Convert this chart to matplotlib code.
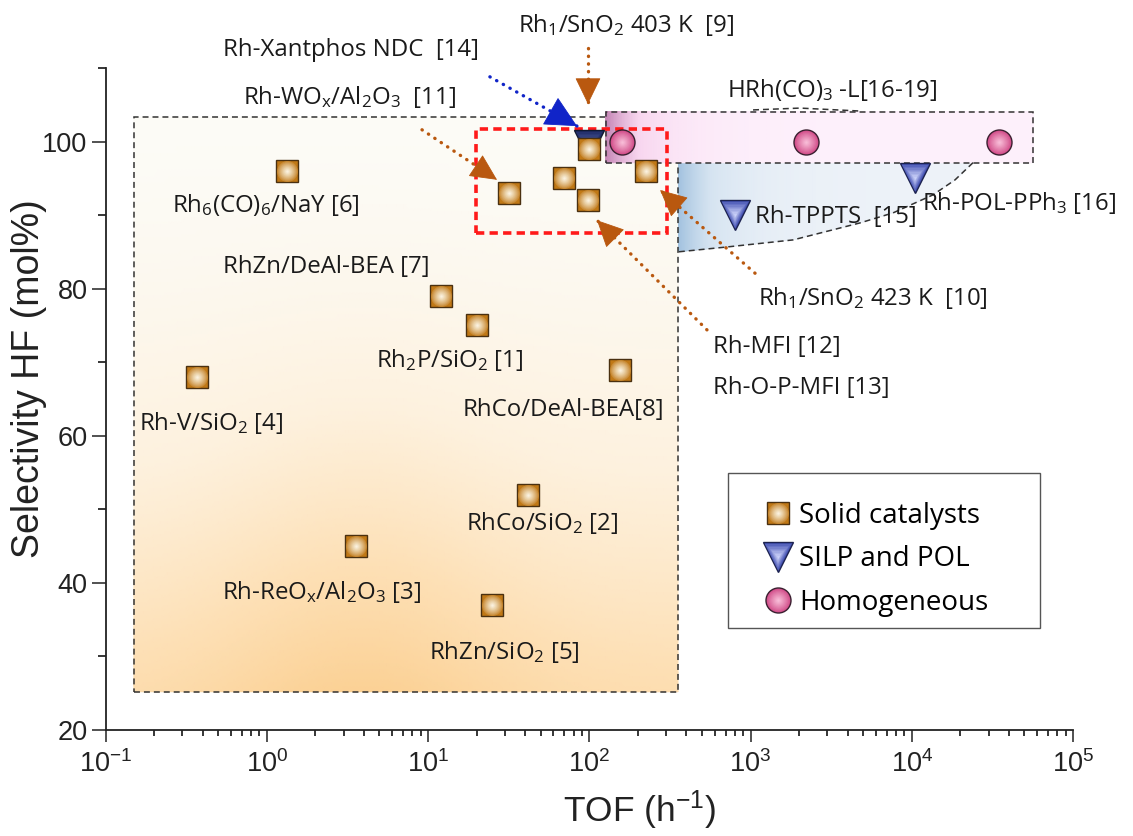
import numpy as np
import matplotlib
matplotlib.use('Agg')
import matplotlib.pyplot as plt
from matplotlib.colors import LinearSegmentedColormap, to_rgb
from matplotlib.patches import Rectangle, Polygon
from matplotlib.legend_handler import HandlerTuple
from matplotlib.ticker import LogLocator, MultipleLocator, NullFormatter, FixedLocator

plt.rcParams['mathtext.default'] = 'regular'

# ---------------- data ----------------
solid_labels = ['Rh$_2$P/SiO$_2$ [1]', 'RhCo/SiO$_2$ [2]', 'Rh-ReO$_x$/Al$_2$O$_3$ [3]',
                'Rh-V/SiO$_2$ [4]', 'RhZn/SiO$_2$ [5]', 'Rh$_6$(CO)$_6$/NaY [6]',
                'RhZn/DeAl-BEA [7]', 'RhCo/DeAl-BEA[8]', 'Rh$_1$/SnO$_2$ 403 K  [9]',
                'Rh$_1$/SnO$_2$ 423 K  [10]', 'Rh-WO$_x$/Al$_2$O$_3$  [11]', 'Rh-MFI [12]',
                'Rh-O-P-MFI [13]']
solid_tof = [20, 42, 3.6, 0.37, 25, 1.33, 12, 155, 100, 225, 32, 98, 70]
solid_sel = [75, 52, 45, 68, 37, 96, 79, 69, 99, 96, 93, 92, 95]

silp_labels = ['Rh-Xantphos NDC  [14]', 'Rh-TPPTS  [15]', 'Rh-POL-PPh$_3$ [16]']
silp_tof = [100, 800, 10500]
silp_sel = [99.5, 90, 95]

homog_label = 'HRh(CO)$_3$ -L[16-19]'
homog_tof = [160, 2200, 35000]
homog_sel = [100, 100, 100]

legend_labels = ['Solid catalysts', 'SILP and POL', 'Homogeneous']
xtick_vals = [1e-1, 1e0, 1e1, 1e2, 1e3, 1e4, 1e5]
ytick_vals = [20, 40, 60, 80, 100]

# label positions (left edge, vertical centre) in data coords
solid_text_pos = [(4.77, 70.3), (17.2, 48.1), (0.528, 38.8), (0.1614, 61.7), (10.1, 30.6),
                  (0.258, 91.4), (0.536, 82.95), (16.3, 63.5), (36.1, 115.9), (1114, 78.7),
                  (0.713, 106.1), (585, 72.1), (585, 66.5)]
silp_text_pos = [(0.536, 112.5), (1067, 89.75), (11580, 91.6)]
homog_text_pos = (714, 107.0)

# arrows: (start, tip, colour)
BROWN = '#b9580f'
arrows = [((98.2, 112.7), (98.2, 105.1), BROWN),
          ((9.18, 101.6), (26.8, 94.8), BROWN),
          ((1067, 82.1), (275, 93.4), BROWN),
          ((537, 74.4), (111.7, 89.3), BROWN),
          ((24.2, 108.8), (84, 102.1), '#1024c8')]

# region outlines
solid_box = (0.150, 355, 25.2, 103.3)
homog_box = (126.5, 56500, 97.13, 104.07)
red_box = (19.9, 302, 87.6, 101.67)
silp_curve = [(23990, 97.13), (18530, 94.78), (13540, 92.75), (7650, 90.30), (4780, 88.94),
              (1838, 86.63), (715, 85.67), (355, 85.0)]
homog_connector = [(1037, 104.3), (2028, 104.55), (4775, 104.15)]

# ---------------- figure ----------------
W, H = 1133, 836
fig = plt.figure(figsize=(W / 100, H / 100), dpi=100)
ax = fig.add_axes([105.5 / W, 1 - 730 / H, (1073 - 105.5) / W, (730 - 68) / H])
ax.set_xscale('log')
ax.set_xlim(0.1, 1e5)
ax.set_ylim(20, 110)

LABEL_FONT = 'Open Sans'
AX_FONT = 'Liberation Sans'
LABEL_SIZE = 17.3


def grad_mesh(x0, x1, y0, y1, func, colors, zorder, clip=None):
    lx = np.linspace(np.log10(x0), np.log10(x1), 160)
    ys = np.linspace(y0, y1, 90)
    LX, Y = np.meshgrid(lx, ys)
    U = (LX - lx[0]) / (lx[-1] - lx[0])
    T = (y1 - Y) / (y1 - y0)
    V = func(U, T)
    cmap = LinearSegmentedColormap.from_list('g', colors)
    m = ax.pcolormesh(10 ** LX, Y, V, cmap=cmap, shading='gouraud', vmin=0, vmax=1,
                      zorder=zorder)
    if clip is not None:
        m.set_clip_path(clip)
    return m


DASH = (0, (3.9, 2.6))

# solid catalysts region
x0, x1, y0, y1 = solid_box
grad_mesh(x0, x1, y0, y1,
          lambda U, T: np.clip(T ** 1.6 * (0.72 + 0.28 * np.exp(-((U - 0.42) / 0.28) ** 2)), 0, 1),
          ['#fcfbf6', '#fdf1de', '#fde0b6', '#fbd195'], 1)
ax.add_patch(Rectangle((x0, y0), x1 - x0, y1 - y0, fill=False, ec='#333333', lw=1.1,
                       ls=DASH, zorder=1.7))

# SILP region (clipped gradient)
silp_poly = Polygon([(solid_box[1], homog_box[2])] + silp_curve + [(solid_box[1], silp_curve[-1][1])],
                    closed=True, transform=ax.transData, fc='none', ec='none')
ax.add_patch(silp_poly)
grad_mesh(solid_box[1], silp_curve[0][0], silp_curve[-1][1], homog_box[2],
          lambda U, T: np.exp(-U / 0.16), ['#edf2f8', '#d6e4f1', '#a2c2df'], 1.6, clip=silp_poly)
ax.plot([p[0] for p in silp_curve], [p[1] for p in silp_curve], color='#333333', lw=1.1,
        ls=DASH, zorder=2.5)

# homogeneous region
x0, x1, y0, y1 = homog_box
grad_mesh(x0, x1, y0, y1, lambda U, T: np.exp(-U / 0.11),
          ['#fdf0fb', '#f8d6ef', '#c586b6'], 2)
ax.add_patch(Rectangle((x0, y0), x1 - x0, y1 - y0, fill=False, ec='#333333', lw=1.1,
                       ls=DASH, zorder=2.5))
ax.plot([p[0] for p in homog_connector], [p[1] for p in homog_connector], color='#333333',
        lw=1.1, ls=DASH, zorder=2.5, clip_on=False)

# red box
x0, x1, y0, y1 = red_box
ax.add_patch(Rectangle((x0, y0), x1 - x0, y1 - y0, fill=False, ec='#ff1a1a', lw=2.6,
                       ls=(0, (2.3, 1.45)), zorder=3))


def mix(c1, c2, f):
    a, b = np.array(to_rgb(c1)), np.array(to_rgb(c2))
    return tuple(a * (1 - f) + b * f)


def grad_markers(xs, ys, marker, ms, c_out, c_in, ec, zorder, n=10, ew=1.0,
                 inner=None, inner_scale=0.97, power=0.9):
    inner = inner or marker
    handles = []
    h = ax.plot(xs, ys, ls='none', marker=marker, ms=ms, mfc=c_out, mec=ec, mew=ew,
                zorder=zorder)[0]
    handles.append(h)
    for i in range(1, n):
        f = i / n
        h = ax.plot(xs, ys, ls='none', marker=inner, ms=ms * (1 - f) * inner_scale,
                    mfc=mix(c_out, c_in, f ** power), mec='none', mew=0,
                    zorder=zorder + 0.01 * i)[0]
        handles.append(h)
    return tuple(handles)


# SILP markers (Xantphos darker, behind square)
grad_markers(silp_tof[:1], silp_sel[:1], 'v', 21, '#1f2b66', '#5866a8', '#101830', 4.5)
tri_h = grad_markers(silp_tof[1:], silp_sel[1:], 'v', 21, '#4553b4', '#d6dcff', '#1c2250', 5)
sq_h = grad_markers(solid_tof, solid_sel, 's', 15.8, '#c07816', '#fffcee', '#4a3010', 5.2,
                    inner='o', inner_scale=1.05, power=0.8)
ci_h = grad_markers(homog_tof, homog_sel, 'o', 18, '#d24f8b', '#fbc6de', '#3a2030', 5.4)

# labels
for lab, (tx, ty) in zip(solid_labels, solid_text_pos):
    ax.text(tx, ty, lab, ha='left', va='center', fontsize=LABEL_SIZE, family=LABEL_FONT,
            color='#1a1a1a', zorder=7)
for lab, (tx, ty) in zip(silp_labels, silp_text_pos):
    ax.text(tx, ty, lab, ha='left', va='center', fontsize=LABEL_SIZE, family=LABEL_FONT,
            color='#1a1a1a', zorder=7)
ax.text(homog_text_pos[0], homog_text_pos[1], homog_label, ha='left', va='center',
        fontsize=LABEL_SIZE, family=LABEL_FONT, color='#1a1a1a', zorder=7)


# arrows
def draw_arrow(start, tip, color, head_len=1.75, head_w=0.85):
    ax.plot([start[0], tip[0]], [start[1], tip[1]], ls=(0, (0.1, 2.2)), lw=2.4, color=color,
            dash_capstyle='round', zorder=6, clip_on=False)
    p0 = ax.transData.transform(start)
    p1 = ax.transData.transform(tip)
    L = np.hypot(*(p1 - p0))
    f = min(0.5, 14.0 / L)
    mid = (10 ** (np.log10(tip[0]) + (np.log10(start[0]) - np.log10(tip[0])) * f),
           tip[1] + (start[1] - tip[1]) * f)
    ax.annotate('', xy=tip, xytext=mid, annotation_clip=False,
                arrowprops=dict(arrowstyle=f'-|>,head_length={head_len},head_width={head_w}',
                                color=color, lw=0.6, shrinkA=0, shrinkB=0, mutation_scale=10),
                zorder=6)


for s, t, c in arrows:
    if c == BROWN:
        draw_arrow(s, t, c)
    else:
        draw_arrow(s, t, c, head_len=2.1, head_w=1.05)

# axes styling
for sp in ['top', 'right']:
    ax.spines[sp].set_visible(False)
for sp in ['left', 'bottom']:
    ax.spines[sp].set_linewidth(1.3)
    ax.spines[sp].set_color('#222222')
    ax.spines[sp].set_zorder(8)

ax.xaxis.set_major_locator(FixedLocator(xtick_vals))
ax.xaxis.set_minor_locator(LogLocator(base=10, subs=np.arange(2, 10), numticks=20))
ax.xaxis.set_minor_formatter(NullFormatter())
ax.yaxis.set_major_locator(FixedLocator(ytick_vals))
ax.yaxis.set_minor_locator(MultipleLocator(10))
ax.tick_params(axis='x', which='major', length=8.6, width=1.1, direction='out', pad=6,
               labelsize=19.5, colors='#222222')
ax.tick_params(axis='x', which='minor', length=4.3, width=1.1, direction='out')
ax.tick_params(axis='y', which='major', length=10, width=1.1, direction='out', pad=3,
               labelsize=19.5, colors='#222222')
ax.tick_params(axis='y', which='minor', length=5.5, width=1.1, direction='out')
for t in ax.get_xticklabels() + ax.get_yticklabels():
    t.set_family(AX_FONT)

ax.set_xlabel('TOF (h$^{-1}$)', fontsize=25.5, family=AX_FONT, color='#222222')
ax.set_ylabel('Selectivity HF (mol%)', fontsize=27, family=AX_FONT, color='#222222')
ax.xaxis.set_label_coords(0.552, -0.088)
ax.yaxis.set_label_coords(-0.0605, 0.531)

# legend (frame drawn separately so its box matches the reference)
ax.add_patch(Rectangle((728 / W, 1 - 628 / H), 312 / W, 155 / H,
                       transform=fig.transFigure, fill=True, fc='white',
                       ec='#555555', lw=1.0, zorder=8.5, clip_on=False))
leg = ax.legend(handles=[sq_h, tri_h, ci_h], labels=legend_labels,
                handler_map={tuple: HandlerTuple(ndivide=1, pad=0)},
                loc='upper left',
                bbox_to_anchor=(728 / W, 1 - 628 / H, 312 / W, 155 / H),
                bbox_transform=fig.transFigure, mode='expand', borderaxespad=0,
                frameon=False, prop={'family': LABEL_FONT, 'size': 20}, borderpad=1.05,
                labelspacing=0.55, handlelength=1.5, handletextpad=0.0, numpoints=1)
leg.set_zorder(9)

fig.savefig('out.png', dpi=100)
